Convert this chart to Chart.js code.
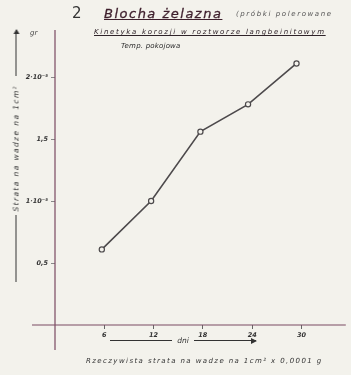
<!DOCTYPE html>
<html>
<head>
<meta charset="utf-8">
<script src="https://cdn.jsdelivr.net/npm/chart.js@4/dist/chart.umd.min.js"></script>
<style>
  body { margin: 0; background: #f3f2ec; }
  #wrap { position: relative; width: 351px; height: 375px; overflow: hidden; background: #f3f2ec; }
  #wrap canvas { position: absolute; left: 0; top: 0; }
  .t { position: absolute; font-family: "DejaVu Sans", sans-serif; font-style: italic; color: #2e2a2c; white-space: nowrap; }
  #num { left: 72px; top: 4px; font-size: 15px; font-style: normal; color: #333; }
  #head { left: 104px; top: 6px; font-size: 13px; letter-spacing: 1.5px; color: #3e1f2c; text-decoration: underline; -webkit-text-stroke: 0.3px #3e1f2c; }
  #probki { left: 236px; top: 10px; font-size: 7px; letter-spacing: 1.6px; color: #555; }
  #sub { left: 94px; top: 28px; font-size: 7px; letter-spacing: 1.7px; color: #2e2228; text-decoration: underline; }
  #temp { left: 121px; top: 42px; font-size: 7px; letter-spacing: 0.2px; color: #2a2a2a; }
  #gr { left: 30px; top: 29px; font-size: 7px; color: #444; }
  #ylab { left: 16px; top: 156px; width: 252px; transform: translate(-50%, -50%) rotate(-90deg); display: flex; align-items: center; font-size: 7.5px; letter-spacing: 1.4px; color: #333; }
  #ylab .ln { flex: 1; height: 0; border-top: 1px solid #333; }
  #ylab span { padding: 0 3px; }
  #ylab .ln.a { flex: 0 0 46px; margin-left: 6px; position: relative; }
  #ylab .ln.a:after { content: ""; position: absolute; right: -1px; top: -3.5px; border-left: 5px solid #333; border-top: 3px solid transparent; border-bottom: 3px solid transparent; }
  #xlab { left: 110px; top: 336px; width: 146px; display: flex; align-items: center; font-size: 7.5px; color: #333; }
  #xlab .ln { flex: 1; height: 0; border-top: 1px solid #333; }
  #xlab span { padding: 0 5px; }
  #xlab .ln.a { position: relative; }
  #xlab .ln.a:after { content: ""; position: absolute; right: -1px; top: -3.5px; border-left: 6px solid #333; border-top: 3px solid transparent; border-bottom: 3px solid transparent; }
  #cap { left: 86px; top: 357px; font-size: 7px; letter-spacing: 1.4px; color: #333; }
</style>
</head>
<body>
<div id="wrap">
  <canvas id="wykres" width="351" height="375"></canvas>
  <div class="t" id="num">2</div>
  <div class="t" id="head">Blocha żelazna</div>
  <div class="t" id="probki">(próbki polerowane</div>
  <div class="t" id="sub">Kinetyka korozji w roztworze langbeinitowym</div>
  <div class="t" id="temp">Temp. pokojowa</div>
  <div class="t" id="gr">gr</div>
  <div class="t" id="ylab"><div class="ln"></div><span>Strata na wadze na 1cm²</span><div class="ln a"></div></div>
  <div class="t" id="xlab"><div class="ln"></div><span>dni</span><div class="ln a"></div></div>
  <div class="t" id="cap">Rzeczywista strata na wadze na 1cm²  x 0,0001 g</div>
</div>
<script>
// dni
const dni = [5.7, 11.7, 17.7, 23.5, 29.4];
// strata na wadze (x 10^-5 gr)
const strata = [0.61, 1.0, 1.56, 1.78, 2.11];

const xTicks = [6, 12, 18, 24, 30];
const xLabels = ['6', '12', '18', '24', '30'];
const yTicks = [0.5, 1, 1.5, 2];
const yLabels = ['0,5', '1·10⁻⁵', '1,5', '2·10⁻⁵'];

const kolorOsi = '#7b4a62';

// osie rysowane przez zero obu skal
const osie = {
  id: 'osie',
  beforeDatasetsDraw(chart) {
    const { ctx, chartArea, scales } = chart;
    const x0 = scales.x.getPixelForValue(0);
    const y0 = scales.y.getPixelForValue(0);
    ctx.save();
    ctx.strokeStyle = kolorOsi;
    ctx.lineWidth = 1.2;
    ctx.beginPath();
    ctx.moveTo(x0, chartArea.top);
    ctx.lineTo(x0, chartArea.bottom + 25);
    ctx.moveTo(chartArea.left - 23, y0);
    ctx.lineTo(chartArea.right, y0);
    ctx.stroke();
    ctx.restore();
  }
};

const tickFont = { family: 'DejaVu Sans', size: 6.5, style: 'italic', weight: 'bold' };

new Chart(document.getElementById('wykres').getContext('2d'), {
  type: 'line',
  data: {
    datasets: [{
      data: dni.map((d, i) => ({ x: d, y: strata[i] })),
      borderColor: '#4d4a4c',
      borderWidth: 1.6,
      pointRadius: 2.6,
      pointBackgroundColor: '#f3f2ec',
      pointBorderColor: '#4d4a4c',
      pointBorderWidth: 1.2,
      fill: false,
      tension: 0
    }]
  },
  options: {
    responsive: false,
    animation: false,
    layout: { padding: { top: 30, left: 0, right: 0, bottom: 0 } },
    plugins: { legend: { display: false }, tooltip: { enabled: false } },
    scales: {
      x: {
        type: 'linear',
        min: 0,
        max: 35.4,
        afterBuildTicks: s => { s.ticks = xTicks.map(v => ({ value: v })); },
        afterFit: s => { s.height = 50; },
        ticks: {
          callback: (v, i) => xLabels[i],
          color: '#333',
          font: tickFont,
          padding: 2,
          maxRotation: 0
        },
        grid: { drawOnChartArea: false, tickLength: 4, color: '#666' },
        border: { display: false }
      },
      y: {
        min: 0,
        max: 2.38,
        afterBuildTicks: s => { s.ticks = yTicks.map(v => ({ value: v })); },
        afterFit: s => { s.width = 55; },
        ticks: {
          callback: (v, i) => yLabels[i],
          color: '#333',
          font: tickFont,
          padding: 3
        },
        grid: { drawOnChartArea: false, tickLength: 4, color: '#888' },
        border: { display: false }
      }
    }
  },
  plugins: [osie]
});
</script>
</body>
</html>
